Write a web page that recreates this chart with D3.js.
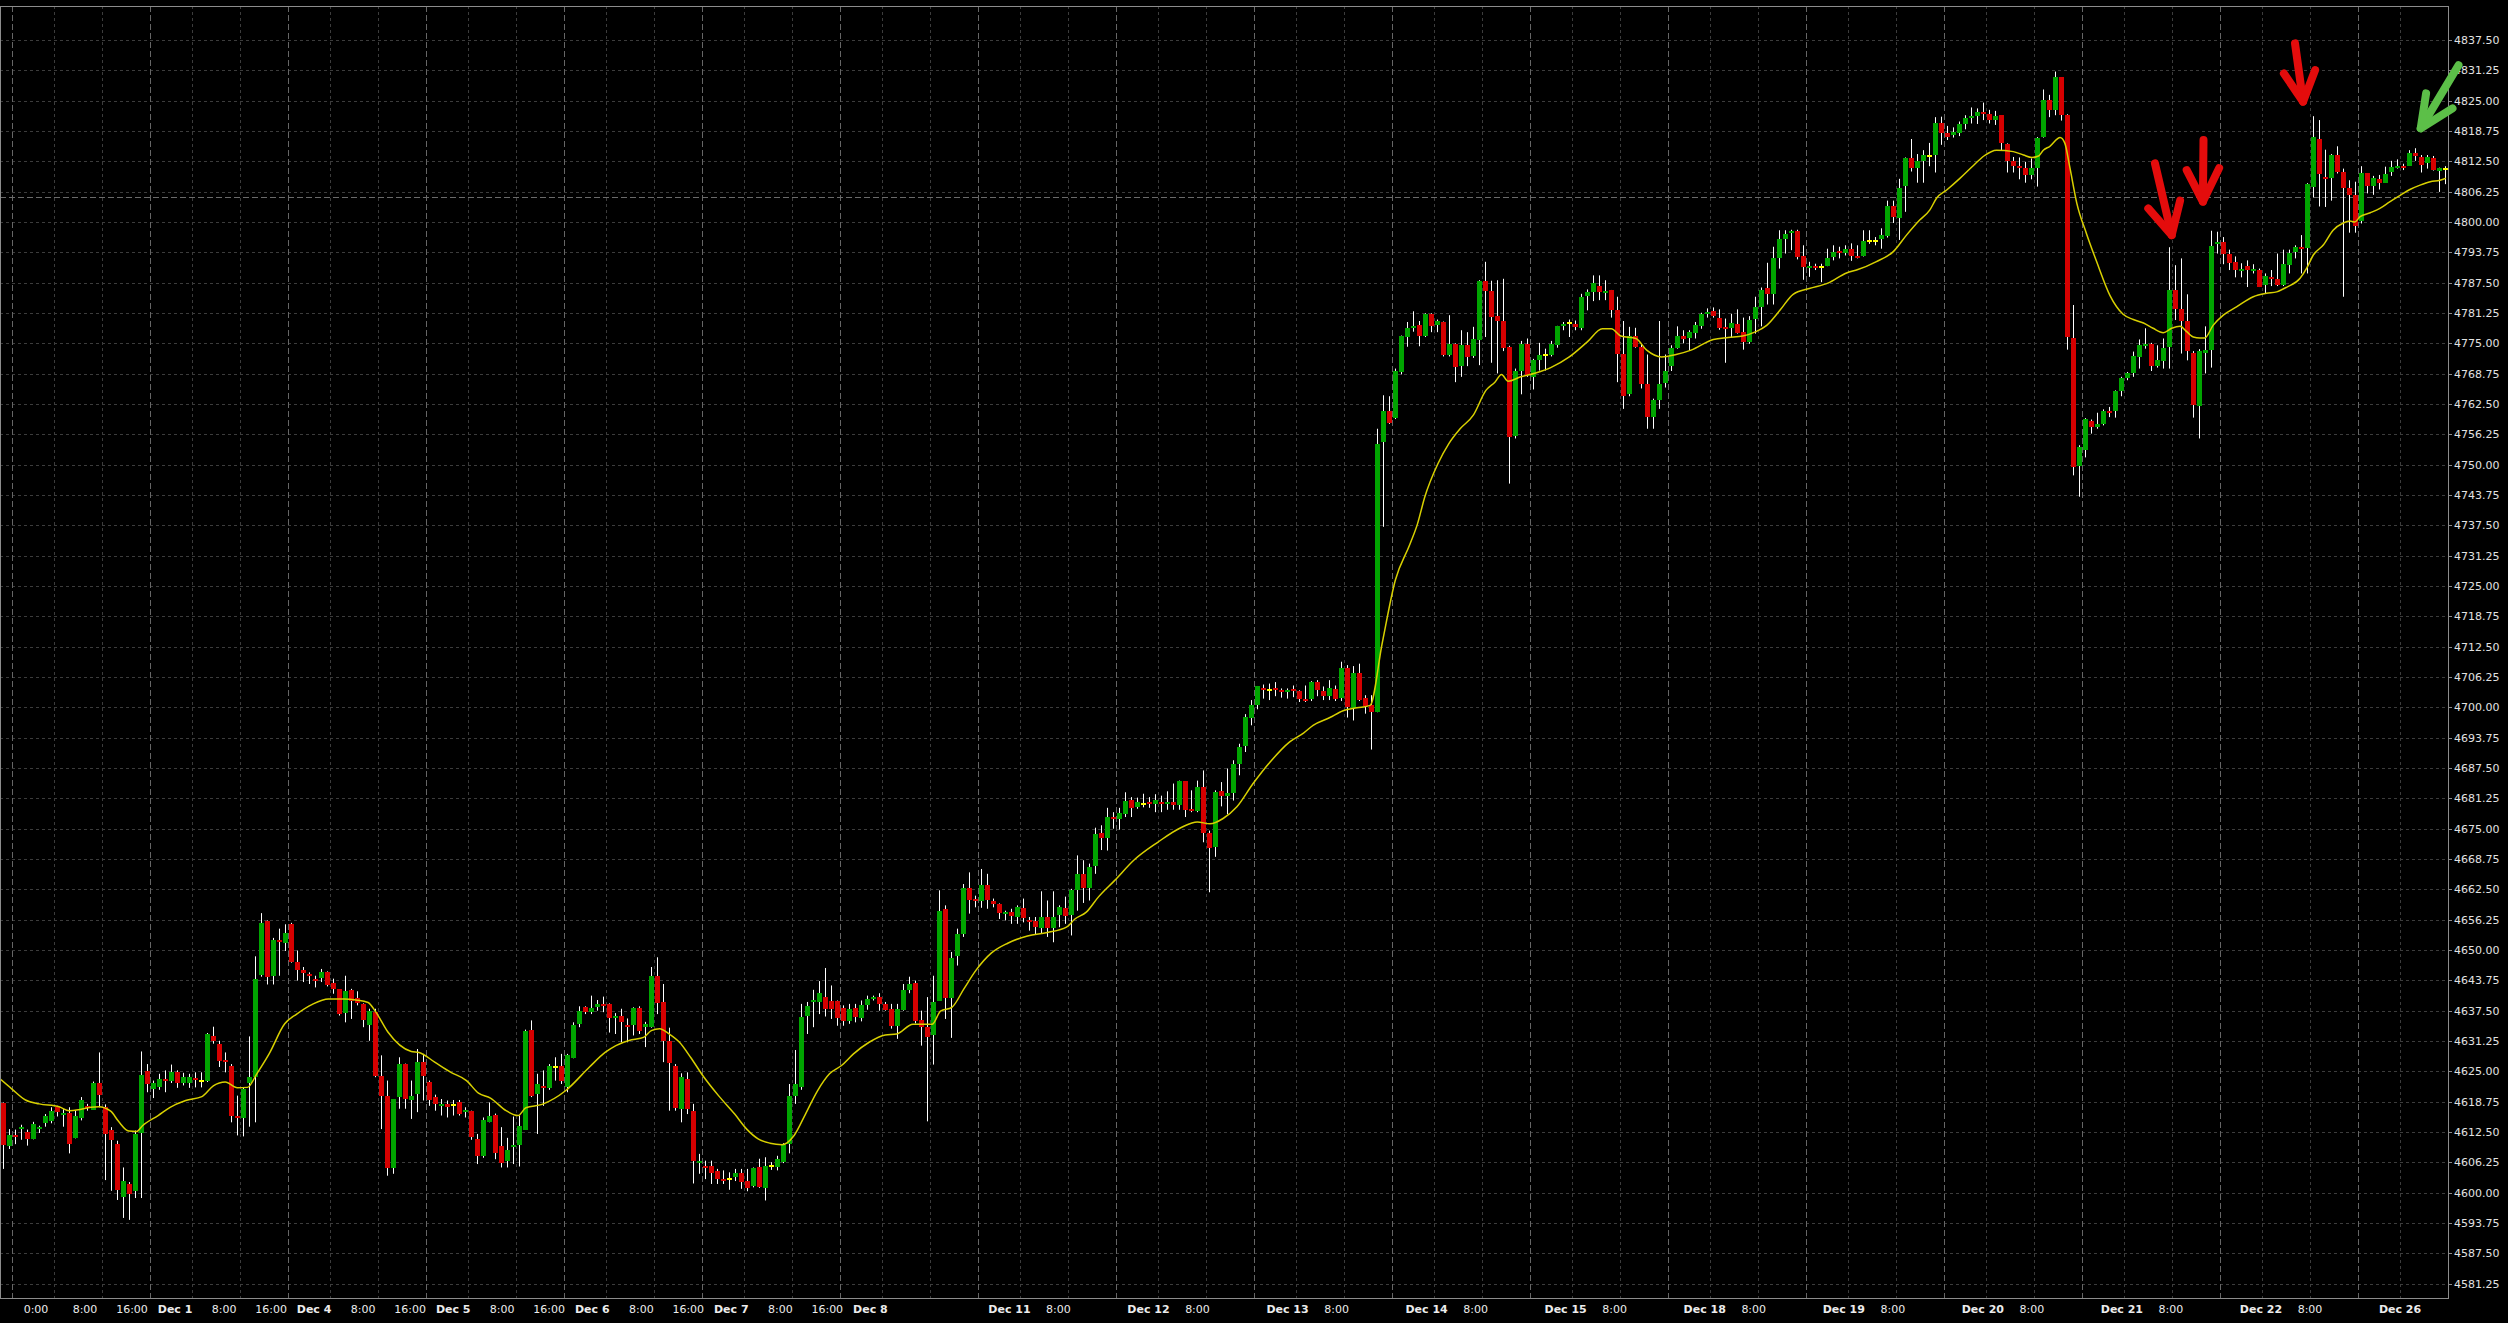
<!DOCTYPE html>
<html><head><meta charset="utf-8">
<script src="https://cdn.jsdelivr.net/npm/d3@7"></script>
<style>html,body{margin:0;padding:0;background:#000;overflow:hidden}svg{display:block}</style>
</head><body><svg id="c" width="2508" height="1323"></svg>
<script>
// ---- DATA (hourly bars, index 0..407) ----
const opens = [
4618.4,4609.7,4611.9,4613.1,4612.5,4611.2,4613.2,4614.2,4614.9,4617.6,
4616.0,4616.5,4611.2,4615.3,4617.8,4617.2,4622.5,4617.6,4612.9,4610.0,
4599.1,4601.8,4600.3,4612.3,4625.1,4621.3,4621.9,4623.5,4623.1,4624.8,
4622.6,4622.6,4623.6,4623.0,4623.0,4632.2,4630.7,4627.4,4626.2,4615.7,
4615.5,4622.7,4623.9,4644.7,4655.9,4644.6,4652.0,4651.6,4655.4,4647.6,
4645.8,4645.0,4644.1,4644.1,4645.4,4643.2,4641.9,4636.9,4641.8,4640.1,
4638.8,4634.6,4637.2,4624.1,4620.0,4605.1,4619.7,4626.5,4619.2,4620.4,
4627.0,4622.8,4619.7,4617.8,4618.2,4618.1,4618.7,4616.6,4616.8,4611.0,
4607.4,4614.7,4616.1,4609.7,4606.6,4609.5,4609.9,4613.1,4633.5,4620.2,
4621.9,4621.7,4625.9,4626.2,4621.7,4627.9,4634.8,4638.2,4637.2,4638.1,
4638.9,4638.8,4636.0,4636.5,4634.6,4634.6,4638.1,4634.2,4634.1,4644.7,
4639.3,4631.2,4626.2,4617.3,4623.5,4616.9,4606.1,4605.5,4605.4,4604.4,
4602.8,4602.8,4603.2,4604.1,4602.5,4601.3,4605.2,4601.0,4605.5,4605.4,
4606.5,4610.1,4620.0,4621.9,4636.3,4639.3,4639.3,4640.4,4639.6,4639.4,
4638.1,4635.5,4638.1,4636.0,4638.8,4640.0,4640.4,4638.9,4637.8,4634.4,
4637.5,4641.7,4643.2,4635.5,4634.2,4632.4,4639.6,4658.5,4640.1,4648.7,
4653.3,4662.7,4660.5,4660.2,4663.3,4660.0,4659.4,4657.3,4657.8,4656.8,
4658.7,4656.2,4655.9,4654.7,4656.9,4654.7,4657.1,4658.7,4657.1,4662.4,
4665.6,4662.8,4667.4,4674.2,4673.1,4677.4,4677.0,4678.2,4681.0,4679.3,
4680.1,4680.5,4680.1,4680.5,4680.1,4680.4,4679.8,4684.8,4679.0,4678.6,
4683.6,4674.1,4671.2,4682.7,4681.8,4682.4,4688.3,4692.0,4697.8,4700.4,
4703.9,4703.5,4703.9,4703.5,4703.2,4703.7,4703.3,4701.7,4701.6,4705.2,
4703.3,4702.3,4703.7,4702.0,4708.2,4699.9,4707.1,4702.0,4700.4,4699.0,
4754.7,4761.0,4759.6,4769.1,4776.2,4778.1,4778.7,4776.5,4781.0,4778.7,
4779.3,4772.7,4774.8,4770.3,4774.6,4772.2,4775.8,4787.9,4785.7,4780.6,
4779.6,4774.3,4755.8,4769.3,4774.9,4768.1,4771.5,4772.6,4772.5,4774.6,
4778.5,4779.2,4778.9,4778.2,4784.6,4785.5,4786.9,4785.4,4785.9,4781.8,
4772.9,4764.5,4776.5,4774.3,4766.7,4759.8,4763.4,4766.7,4770.3,4774.1,
4776.5,4776.1,4777.1,4778.7,4781.1,4781.6,4780.3,4778.3,4778.2,4778.9,
4777.3,4775.3,4779.9,4782.5,4786.4,4785.1,4792.5,4796.4,4797.6,4798.1,
4792.9,4790.6,4790.9,4790.7,4790.9,4792.8,4794.0,4793.7,4794.5,4792.9,
4792.9,4796.0,4796.0,4796.5,4797.2,4803.3,4800.9,4807.4,4813.2,4811.2,
4812.6,4813.6,4813.9,4820.5,4818.4,4817.9,4818.4,4820.2,4821.5,4821.8,
4822.7,4822.2,4820.9,4822.0,4816.1,4812.6,4811.5,4811.2,4809.7,4811.2,
4817.4,4825.1,4823.1,4829.8,4822.0,4776.2,4749.7,4753.1,4758.9,4757.6,
4758.5,4761.1,4761.1,4765.2,4767.9,4768.8,4772.2,4774.4,4774.8,4770.2,
4771.5,4774.3,4786.0,4782.0,4779.6,4773.0,4762.1,4773.0,4773.5,4795.4,
4795.9,4793.5,4791.7,4790.0,4790.9,4790.1,4790.2,4787.0,4788.6,4788.2,
4787.0,4791.3,4793.8,4794.8,4794.6,4807.4,4817.0,4809.2,4809.0,4813.8,
4810.4,4807.1,4805.6,4800.1,4810.0,4807.4,4808.8,4808.1,4810.2,4811.4,
4811.6,4811.7,4814.3,4813.3,4812.1,4813.1,4810.6,4810.9];
const highs = [
4618.6,4613.1,4613.0,4614.0,4613.0,4614.6,4613.8,4616.2,4617.6,4617.9,
4617.2,4617.6,4616.9,4619.7,4618.3,4622.9,4628.9,4618.2,4613.5,4610.7,
4605.2,4602.2,4612.8,4629.1,4626.5,4623.1,4624.5,4625.2,4626.4,4625.2,
4624.7,4624.5,4624.8,4624.8,4632.9,4634.2,4631.3,4628.9,4626.5,4620.0,
4621.6,4632.2,4648.7,4657.6,4656.1,4652.5,4654.4,4655.3,4655.6,4649.9,
4646.5,4645.4,4644.7,4646.1,4645.6,4644.1,4641.9,4644.7,4642.0,4641.5,
4639.0,4637.9,4637.9,4628.3,4623.1,4619.3,4627.9,4626.6,4623.1,4629.6,
4628.6,4623.1,4620.2,4619.3,4619.0,4619.1,4619.1,4617.6,4616.9,4612.1,
4615.5,4618.6,4616.3,4613.5,4611.3,4615.7,4615.9,4633.6,4635.5,4624.5,
4625.2,4626.5,4627.9,4628.6,4628.6,4635.1,4638.4,4638.4,4640.6,4639.7,
4640.4,4639.0,4637.0,4637.9,4635.9,4638.2,4638.4,4635.2,4646.5,4648.5,
4643.0,4634.0,4626.5,4624.6,4624.8,4618.3,4608.0,4606.6,4606.6,4604.9,
4604.6,4604.2,4604.9,4604.9,4604.9,4605.2,4607.0,4607.3,4606.3,4607.6,
4610.2,4622.4,4629.4,4638.9,4639.3,4641.8,4643.6,4646.3,4642.7,4639.6,
4638.6,4638.9,4638.9,4639.6,4640.6,4640.6,4641.1,4639.3,4638.9,4638.9,
4643.0,4644.5,4643.7,4637.5,4640.3,4644.7,4662.3,4659.2,4649.6,4654.4,
4663.6,4666.0,4661.2,4666.7,4665.7,4660.6,4659.6,4658.1,4658.5,4659.2,
4660.6,4656.8,4656.8,4662.1,4660.2,4662.1,4659.2,4661.0,4662.6,4669.5,
4668.5,4667.8,4675.2,4675.7,4679.3,4678.4,4679.3,4682.5,4681.5,4681.4,
4682.2,4681.5,4682.1,4681.8,4682.7,4684.3,4684.9,4684.8,4682.9,4684.9,
4687.0,4674.6,4682.9,4684.6,4687.4,4689.1,4692.5,4698.6,4701.5,4704.4,
4704.7,4704.9,4705.2,4703.9,4703.9,4704.5,4703.5,4704.5,4705.4,4705.6,
4704.3,4705.6,4704.5,4709.4,4708.7,4708.5,4709.0,4702.5,4702.5,4757.4,
4764.3,4764.1,4769.8,4776.6,4779.4,4781.6,4779.6,4781.2,4781.2,4779.9,
4779.5,4780.8,4775.0,4777.7,4777.3,4778.4,4788.0,4791.8,4787.9,4788.0,
4788.3,4774.5,4769.8,4775.5,4776.0,4771.8,4775.1,4773.9,4775.5,4778.6,
4779.4,4779.9,4779.7,4785.2,4786.1,4789.0,4789.0,4788.0,4786.0,4784.6,
4779.6,4778.4,4778.2,4774.9,4772.7,4763.6,4779.6,4772.7,4774.6,4778.5,
4777.7,4777.7,4779.4,4781.3,4782.2,4782.4,4782.0,4780.1,4781.1,4782.0,
4780.3,4780.6,4784.6,4786.5,4791.6,4794.9,4798.3,4798.3,4798.4,4798.4,
4795.2,4791.8,4791.4,4791.4,4794.5,4795.2,4794.9,4795.2,4795.6,4795.2,
4798.3,4798.3,4796.9,4798.7,4804.4,4804.4,4808.9,4813.3,4817.1,4814.0,
4814.8,4816.3,4821.6,4821.7,4819.8,4819.5,4820.7,4822.0,4823.6,4823.4,
4824.6,4823.1,4822.9,4822.0,4816.2,4813.4,4813.3,4812.4,4813.1,4817.5,
4827.3,4826.2,4831.0,4829.8,4822.2,4782.9,4754.0,4759.6,4759.3,4760.7,
4761.4,4761.9,4765.3,4768.1,4769.1,4773.3,4775.8,4778.1,4775.1,4774.6,
4776.0,4794.8,4791.1,4792.5,4785.1,4773.4,4773.8,4778.5,4798.2,4798.0,
4796.9,4794.3,4792.9,4791.5,4792.1,4791.3,4790.4,4789.4,4790.1,4793.5,
4794.3,4794.3,4795.2,4797.3,4808.0,4821.8,4821.0,4814.9,4814.0,4815.6,
4811.0,4808.6,4808.3,4811.5,4810.0,4809.5,4809.7,4811.4,4812.6,4812.9,
4812.0,4814.8,4815.2,4813.8,4813.8,4813.6,4811.2,4811.5];
const lows = [
4604.9,4609.0,4610.0,4610.9,4609.7,4611.0,4612.3,4613.6,4614.3,4615.7,
4613.6,4608.1,4611.2,4614.9,4616.9,4617.1,4617.6,4602.6,4600.4,4598.5,
4594.8,4594.4,4598.9,4598.9,4620.7,4619.5,4621.2,4620.7,4622.6,4621.6,
4622.1,4621.6,4621.7,4621.7,4622.8,4630.7,4625.9,4624.8,4614.5,4611.8,
4611.6,4613.6,4614.5,4644.5,4642.9,4642.9,4644.7,4649.8,4647.4,4643.7,
4643.4,4643.0,4642.3,4643.4,4642.5,4641.0,4636.5,4635.1,4635.8,4638.6,
4634.1,4631.3,4623.8,4613.1,4603.5,4603.9,4617.3,4617.3,4615.2,4616.6,
4619.0,4617.9,4616.9,4615.9,4615.5,4615.9,4615.9,4615.5,4610.9,4605.9,
4607.2,4614.5,4606.9,4605.2,4605.2,4605.9,4605.4,4613.0,4619.7,4612.1,
4617.9,4621.2,4623.1,4622.4,4620.7,4627.7,4634.1,4636.8,4636.8,4637.5,
4637.2,4633.0,4632.7,4631.0,4631.0,4632.4,4632.7,4630.0,4634.0,4636.8,
4626.9,4616.9,4616.9,4614.5,4616.2,4601.9,4603.9,4602.8,4601.8,4601.8,
4601.8,4600.6,4602.4,4600.8,4600.3,4601.1,4601.0,4598.4,4604.7,4604.6,
4606.1,4608.1,4618.3,4621.2,4632.7,4634.1,4636.8,4636.3,4635.8,4634.4,
4634.4,4634.8,4635.1,4635.3,4637.7,4639.6,4637.5,4637.5,4633.8,4631.7,
4637.5,4641.1,4634.9,4630.3,4614.7,4626.4,4639.6,4635.8,4631.9,4646.8,
4652.7,4657.5,4658.8,4658.7,4658.5,4658.8,4656.4,4656.1,4655.4,4655.4,
4655.7,4654.0,4653.3,4653.3,4652.7,4651.6,4654.7,4655.4,4653.0,4658.1,
4659.7,4660.2,4665.7,4670.6,4670.5,4675.0,4674.8,4677.4,4677.4,4679.1,
4679.4,4679.3,4678.4,4678.4,4678.9,4678.9,4678.9,4677.4,4678.4,4678.4,
4672.2,4661.9,4669.2,4679.6,4678.0,4680.8,4686.0,4690.8,4696.3,4699.6,
4701.8,4701.5,4702.3,4702.0,4701.8,4702.1,4701.1,4701.1,4701.3,4702.3,
4701.5,4701.5,4701.3,4701.3,4697.9,4697.3,4701.3,4698.7,4691.3,4699.0,
4737.2,4758.4,4759.4,4768.6,4774.3,4777.4,4774.4,4776.3,4777.3,4777.3,
4772.3,4772.3,4767.0,4768.1,4770.3,4772.0,4770.5,4776.3,4771.0,4768.8,
4773.4,4746.1,4755.4,4764.5,4768.1,4765.5,4769.4,4769.4,4772.3,4774.1,
4777.7,4776.3,4777.7,4777.7,4781.8,4783.7,4783.9,4783.9,4780.3,4767.0,
4761.5,4764.1,4774.1,4765.7,4757.4,4757.4,4761.5,4765.9,4769.3,4773.9,
4775.0,4773.6,4776.0,4778.0,4780.3,4780.3,4777.8,4771.0,4776.2,4777.0,
4773.7,4774.9,4777.0,4778.5,4783.0,4783.0,4790.4,4793.5,4794.2,4792.3,
4788.1,4788.7,4790.1,4787.6,4790.9,4792.1,4792.5,4793.1,4792.0,4792.5,
4792.9,4795.5,4795.2,4794.5,4796.8,4799.8,4796.3,4802.1,4810.4,4808.1,
4808.1,4811.5,4810.2,4815.9,4816.9,4817.4,4817.7,4819.1,4820.3,4820.2,
4821.0,4820.3,4820.0,4814.8,4810.2,4810.2,4808.8,4808.1,4808.8,4807.3,
4817.4,4821.6,4822.0,4820.9,4773.7,4747.8,4743.4,4751.5,4756.4,4757.4,
4758.1,4759.8,4759.7,4764.1,4767.4,4768.1,4769.8,4773.9,4769.3,4770.0,
4769.8,4769.8,4779.8,4772.9,4771.5,4759.7,4755.4,4768.8,4770.0,4793.5,
4791.3,4790.1,4788.6,4788.6,4786.6,4789.4,4786.6,4785.3,4786.8,4786.8,
4786.8,4789.4,4792.5,4789.4,4789.4,4805.1,4803.2,4803.1,4804.4,4810.0,
4784.6,4797.8,4797.8,4799.7,4805.9,4805.6,4806.7,4808.1,4809.5,4811.0,
4810.7,4811.7,4812.6,4810.2,4811.0,4810.6,4806.2,4807.8];
const closes = [
4609.7,4611.9,4611.4,4613.6,4611.0,4614.2,4613.6,4615.7,4616.9,4616.5,
4616.5,4610.2,4615.7,4619.0,4617.5,4622.7,4620.0,4612.1,4610.9,4600.6,
4602.4,4599.7,4612.0,4624.3,4622.4,4622.5,4623.5,4623.0,4624.9,4622.6,
4623.9,4623.8,4623.3,4623.0,4632.7,4631.2,4627.1,4627.1,4615.9,4615.4,
4621.4,4623.9,4644.1,4655.5,4644.3,4652.0,4651.6,4653.6,4647.6,4646.0,
4645.2,4644.5,4643.7,4645.4,4642.7,4641.9,4636.7,4641.5,4639.5,4639.0,
4635.6,4637.5,4624.1,4620.0,4605.2,4619.3,4626.5,4619.3,4620.0,4627.0,
4624.1,4619.0,4618.2,4618.3,4617.5,4618.1,4616.2,4617.1,4611.4,4607.4,
4614.9,4615.9,4608.3,4606.3,4608.8,4609.9,4613.8,4633.4,4620.0,4622.3,
4621.5,4626.2,4625.9,4623.1,4628.3,4634.6,4637.5,4637.2,4638.1,4638.8,
4638.4,4636.0,4636.5,4635.3,4634.4,4638.1,4633.3,4634.8,4644.7,4639.2,
4631.2,4626.7,4617.5,4623.9,4617.3,4606.5,4606.5,4605.2,4604.0,4602.7,
4602.4,4602.8,4604.0,4602.2,4601.0,4605.0,4601.0,4605.5,4605.5,4607.0,
4609.9,4620.0,4622.4,4636.3,4638.4,4639.8,4641.1,4638.0,4638.0,4636.0,
4635.5,4637.9,4636.2,4638.7,4640.0,4640.4,4639.0,4637.7,4634.2,4637.8,
4641.7,4643.0,4635.3,4634.1,4632.2,4639.3,4658.1,4640.1,4648.4,4653.2,
4662.8,4660.3,4660.1,4663.4,4660.2,4659.4,4657.5,4657.8,4656.9,4658.8,
4656.6,4655.9,4654.7,4656.9,4654.7,4656.9,4658.8,4657.1,4662.3,4665.6,
4662.8,4667.2,4673.9,4673.1,4677.4,4677.0,4678.2,4680.8,4679.4,4680.4,
4680.1,4680.1,4681.0,4680.0,4680.4,4679.8,4684.8,4678.9,4678.6,4683.6,
4674.1,4671.0,4682.6,4681.7,4682.4,4688.3,4691.8,4698.0,4700.4,4704.3,
4703.5,4703.5,4703.5,4703.2,4703.5,4703.3,4701.6,4701.3,4705.2,4703.5,
4702.3,4703.9,4701.6,4708.2,4700.2,4707.1,4701.6,4700.4,4699.0,4754.2,
4761.0,4758.6,4769.3,4776.5,4778.1,4778.5,4776.5,4781.0,4778.5,4779.6,
4772.5,4774.9,4770.1,4774.6,4772.2,4775.8,4787.9,4785.9,4780.4,4779.6,
4774.1,4755.8,4769.2,4774.9,4768.6,4771.6,4772.5,4772.6,4774.8,4778.5,
4778.9,4779.2,4778.2,4784.6,4785.5,4787.4,4785.7,4785.7,4781.7,4772.7,
4764.3,4776.5,4774.3,4766.7,4760.0,4763.4,4766.6,4769.2,4774.1,4776.5,
4775.8,4777.3,4778.7,4781.1,4781.4,4780.6,4778.2,4777.8,4779.2,4777.1,
4775.3,4779.9,4782.4,4786.0,4785.1,4792.5,4796.4,4797.5,4798.1,4792.8,
4790.6,4790.9,4790.6,4790.7,4792.5,4793.8,4793.7,4794.5,4793.0,4792.7,
4796.0,4796.0,4796.0,4797.3,4803.3,4801.1,4807.1,4813.2,4811.2,4812.6,
4813.8,4813.6,4820.5,4818.4,4817.6,4818.6,4820.2,4821.5,4821.8,4822.7,
4822.2,4820.9,4821.8,4816.2,4812.6,4811.6,4811.2,4809.7,4811.2,4817.4,
4825.1,4823.1,4829.8,4822.0,4776.2,4749.7,4753.7,4759.4,4757.6,4758.3,
4761.1,4760.7,4765.2,4767.9,4768.9,4772.4,4774.6,4774.8,4770.2,4771.5,
4774.1,4786.0,4782.0,4779.6,4773.5,4762.3,4773.5,4773.6,4795.0,4795.9,
4793.5,4791.6,4790.0,4790.4,4790.1,4790.4,4786.8,4788.8,4788.2,4787.0,
4791.3,4793.7,4794.8,4794.4,4807.8,4817.6,4809.7,4808.8,4813.8,4810.4,
4807.1,4805.6,4799.2,4810.0,4807.4,4809.0,4808.0,4809.9,4811.3,4811.6,
4811.4,4814.3,4813.6,4811.7,4813.3,4810.6,4811.2,4810.9];

// moving average: bar position, value
const maBars = [-0.5,1.4,3.7,6.0,9.3,11.0,12.6,14.6,15.9,17.9,19.2,20.9,22.2,23.2,25.8,27.8,30.4,33.1,35.0,37.0,
39.0,40.7,42.3,44.3,46.9,48.9,51.5,54.2,56.8,58.8,60.8,62.1,64.1,68.0,69.3,71.9,74.6,77.2,79.2,81.2,
83.8,85.8,87.1,89.8,93.7,97.7,100.3,102.1,104.7,106.7,108.0,109.4,111.0,112.7,114.6,116.6,119.2,121.9,123.9,125.8,
127.8,129.8,131.8,133.7,135.7,137.7,139.7,141.7,144.3,147.0,148.9,151.6,154.8,156.2,158.1,160.1,162.1,164.7,167.4,170.7,
174.0,177.2,178.6,180.5,182.5,185.2,188.5,192.4,196.4,199.0,201.1,203.3,205.6,208.3,211.1,214.4,216.7,218.3,221.1,223.3,
225.6,227.8,229.8,232.0,234.4,235.7,236.9,239.1,240.9,242.8,245.0,247.1,248.6,249.7,250.8,252.9,255.4,257.9,261.0,264.0,
266.5,268.0,269.6,272.1,273.9,276.4,278.8,281.3,285.0,287.5,289.9,292.1,293.9,296.1,298.3,301.0,304.1,307.2,309.1,312.1,
315.0,317.2,319.4,321.1,322.2,323.9,326.1,328.4,330.1,332.2,335.0,336.7,338.1,339.2,340.0,341.1,342.8,343.6,344.4,345.6,
347.2,348.9,351.1,353.3,355.0,356.7,358.3,360.0,361.4,362.8,363.9,365.0,366.1,366.9,368.3,370.0,372.2,375.0,377.2,378.9,
380.6,382.8,383.9,385.0,386.7,388.3,390.0,391.1,391.9,392.8,394.5,396.1,397.8,399.5,401.1,402.8,404.5,406.1,407.1];
const maValues = [4623.4,4621.4,4619.1,4618.3,4617.7,4616.9,4617.1,4617.6,4617.7,4616.8,4614.7,4612.7,4612.6,4613.8,4615.9,4617.6,4619.0,4619.8,4622.0,4622.8,
4621.6,4621.7,4624.6,4628.6,4634.8,4636.8,4638.8,4639.9,4639.9,4639.7,4639.2,4637.2,4633.1,4629.1,4628.9,4626.9,4624.8,4623.1,4620.5,4619.5,
4616.9,4615.9,4617.5,4618.2,4621.0,4625.9,4628.9,4630.3,4631.5,4632.0,4633.4,4633.8,4632.7,4631.0,4627.8,4624.1,4620.0,4616.2,4613.1,4611.1,
4610.2,4609.9,4611.8,4616.2,4621.0,4624.5,4626.2,4628.6,4631.0,4632.5,4632.7,4634.7,4634.7,4637.4,4638.2,4642.0,4645.8,4649.4,4651.4,4652.9,
4653.6,4654.7,4656.4,4657.8,4660.9,4664.3,4668.6,4672.2,4675.3,4676.4,4676.0,4677.1,4679.5,4684.3,4688.7,4692.9,4694.7,4696.3,4697.9,4699.3,
4699.9,4700.4,4713.1,4726.2,4733.5,4737.8,4743.3,4750.2,4754.3,4757.4,4760.2,4765.3,4767.0,4768.6,4767.2,4768.1,4768.9,4770.0,4772.2,4775.3,
4778.0,4778.0,4776.5,4776.0,4773.6,4772.2,4772.7,4773.6,4775.8,4776.2,4776.5,4777.4,4778.7,4781.8,4785.1,4786.3,4787.4,4789.5,4790.2,4791.8,
4793.9,4797.3,4800.4,4802.5,4804.9,4806.6,4809.0,4811.7,4813.6,4814.8,4814.5,4813.8,4813.3,4813.6,4814.8,4815.6,4817.4,4816.2,4811.4,4803.8,
4797.6,4791.8,4784.9,4781.0,4779.9,4779.2,4778.1,4777.2,4778.1,4778.5,4777.4,4776.3,4776.1,4776.1,4778.7,4780.8,4782.5,4784.6,4785.3,4785.6,
4786.6,4788.4,4790.5,4793.2,4795.3,4798.3,4799.8,4800.2,4800.0,4801.1,4801.9,4802.8,4804.2,4805.5,4806.7,4807.6,4808.3,4808.6,4809.0];

// price axis labels
const yTicks = [4581.25,4587.50,4593.75,4600.00,4606.25,4612.50,4618.75,4625.00,4631.25,4637.50,4643.75,4650.00,
4656.25,4662.50,4668.75,4675.00,4681.25,4687.50,4693.75,4700.00,4706.25,4712.50,4718.75,4725.00,4731.25,4737.50,
4743.75,4750.00,4756.25,4762.50,4768.75,4775.00,4781.25,4787.50,4793.75,4800.00,4806.25,4812.50,4818.75,4825.00,
4831.25,4837.50];

// time axis labels and their positions in bar units
const xTickText = ["0:00","8:00","16:00","Dec 1","8:00","16:00","Dec 4","8:00","16:00","Dec 5","8:00","16:00",
"Dec 6","8:00","16:00","Dec 7","8:00","16:00","Dec 8","Dec 11","8:00","Dec 12","8:00","Dec 13","8:00",
"Dec 14","8:00","Dec 15","8:00","Dec 18","8:00","Dec 19","8:00","Dec 20","8:00","Dec 21","8:00","Dec 22","8:00","Dec 26"];
const xTickPos = [5.45,13.62,21.45,28.63,36.80,44.63,51.80,59.97,67.80,74.98,83.15,90.98,
98.16,106.33,114.16,121.33,129.50,137.33,144.51,167.69,175.86,190.86,199.03,214.04,222.21,
237.22,245.39,260.39,268.56,283.57,291.74,306.75,314.92,329.92,338.09,353.10,361.27,376.28,384.45,399.45];

// first bar of each trading day (period separators)
const dayStarts = [2,25,48,71,94,117,140,163,186,209,232,255,278,301,324,347,370,393];
// intraday grid offsets (bars after the day start)
const gridOffsets = [7,15];
// dashed horizontal price line
const priceLine = 4805.2;

// annotation arrows: [bar, price] points: shaft start, tip, wing1, wing2
const redArrows = [
  [[358.6,4812.1],[361.4,4797.3],[357.5,4802.8],[362.8,4804.4]],
  [[366.7,4816.9],[366.6,4804.2],[363.9,4810.7],[369.3,4811.1]],
  [[381.95,4836.8],[383.3,4824.8],[380.1,4830.6],[385.3,4831.3]]
];
const greenArrows = [
  [[409.2,4832.3],[402.9,4819.3],[403.8,4826.5],[408.2,4823.4]]
];

// ---- DRAW ----
const svg = d3.select("#c");
const W = 2508, H = 1323, plotR = 2448, plotT = 6, plotB = 1298;
const x = d3.scaleLinear().domain([-0.55, 407.45]).range([0, plotR]);
const y = d3.scaleLinear().domain([4581.25, 4837.5]).range([1283.7, 40]);

svg.append("rect").attr("width", W).attr("height", H).attr("fill", "#000");

const g = svg.append("g");
// horizontal grid
g.selectAll("line.hg").data(yTicks).join("line")
  .attr("x1", 0).attr("x2", plotR)
  .attr("y1", d => Math.round(y(d)) + 0.5).attr("y2", d => Math.round(y(d)) + 0.5)
  .attr("stroke", "#3c3c3c").attr("stroke-width", 1).attr("stroke-dasharray", "3,3");
// vertical minor grid
const vg = [];
dayStarts.forEach(s => gridOffsets.forEach(o => vg.push(s - 0.5 + o)));
g.selectAll("line.vg").data(vg.filter(v => x(v) < plotR - 1)).join("line")
  .attr("x1", d => Math.round(x(d)) + 0.5).attr("x2", d => Math.round(x(d)) + 0.5)
  .attr("y1", plotT).attr("y2", plotB)
  .attr("stroke", "#3c3c3c").attr("stroke-width", 1).attr("stroke-dasharray", "3,3");
// period separators
g.selectAll("line.sep").data(dayStarts).join("line")
  .attr("x1", d => Math.round(x(d - 0.5)) + 0.5).attr("x2", d => Math.round(x(d - 0.5)) + 0.5)
  .attr("y1", plotT).attr("y2", plotB)
  .attr("stroke", "#666").attr("stroke-width", 1).attr("stroke-dasharray", "6,3");
// dashed price line
g.append("line").attr("x1", 0).attr("x2", plotR)
  .attr("y1", Math.round(y(priceLine)) + 0.5).attr("y2", Math.round(y(priceLine)) + 0.5)
  .attr("stroke", "#6a6a6a").attr("stroke-dasharray", "6,3");

// candles
const idx = d3.range(opens.length);
const cg = svg.append("g");
cg.selectAll("line.wick").data(idx).join("line")
  .attr("x1", i => Math.floor(x(i)) + 0.5).attr("x2", i => Math.floor(x(i)) + 0.5)
  .attr("y1", i => y(Math.max(highs[i], opens[i], closes[i])))
  .attr("y2", i => y(Math.min(lows[i], opens[i], closes[i])))
  .attr("stroke", "#fff").attr("stroke-width", 1);
cg.selectAll("rect.body").data(idx.filter(i => opens[i] !== closes[i])).join("rect")
  .attr("x", i => Math.floor(x(i)) - 2).attr("width", 5)
  .attr("y", i => Math.round(y(Math.max(opens[i], closes[i]))))
  .attr("height", i => Math.max(2, Math.round(Math.abs(y(opens[i]) - y(closes[i])))))
  .attr("fill", i => closes[i] > opens[i] ? "#00a400" : "#d60000");
cg.selectAll("rect.doji").data(idx.filter(i => opens[i] === closes[i])).join("rect")
  .attr("x", i => Math.floor(x(i)) - 2).attr("width", 5)
  .attr("y", i => Math.round(y(closes[i])) - 1).attr("height", 2)
  .attr("fill", "#ffff00");

// moving average
const maPts = maBars.map((b, i) => [b, maValues[i]]);
svg.append("path").datum(maPts)
  .attr("d", d3.line().x(d => x(d[0])).y(d => y(d[1])).curve(d3.curveMonotoneX))
  .attr("fill", "none").attr("stroke", "#d8d000").attr("stroke-width", 1.5);

// frame
svg.append("rect").attr("x", 0.5).attr("y", plotT + 0.5).attr("width", plotR).attr("height", plotB - plotT)
  .attr("fill", "none").attr("stroke", "#8c8c8c").attr("stroke-width", 1);

// price axis
const ya = svg.append("g");
ya.selectAll("line").data(yTicks).join("line")
  .attr("x1", plotR).attr("x2", plotR + 4)
  .attr("y1", d => Math.round(y(d)) + 0.5).attr("y2", d => Math.round(y(d)) + 0.5)
  .attr("stroke", "#8c8c8c");
ya.selectAll("text").data(yTicks).join("text")
  .attr("x", plotR + 6).attr("y", d => y(d)).attr("dy", "0.36em")
  .attr("font-family", "DejaVu Sans, sans-serif").attr("font-size", 11)
  .attr("fill", "#e2e2e2").text(d => d3.format(".2f")(d));

// time axis
svg.append("g").selectAll("text").data(xTickText).join("text")
  .attr("x", (d, i) => x(xTickPos[i])).attr("y", 1313)
  .attr("text-anchor", "middle")
  .attr("font-family", "DejaVu Sans, sans-serif").attr("font-size", 11)
  .attr("font-weight", d => d.startsWith("Dec") ? "bold" : "normal")
  .attr("fill", "#ececec").text(d => d);

// arrows
function drawArrows(list, color) {
  const ag = svg.append("g").attr("fill", "none").attr("stroke", color)
    .attr("stroke-width", 8).attr("stroke-linecap", "round").attr("stroke-linejoin", "round");
  list.forEach(a => {
    const p = a.map(q => [x(q[0]), y(q[1])]);
    ag.append("path").attr("d", d3.line()([p[0], p[1]]));
    ag.append("path").attr("d", d3.line()([p[2], p[1], p[3]]));
  });
}
drawArrows(redArrows, "#e40c0c");
drawArrows(greenArrows, "#5cbf48");
</script></body></html>
